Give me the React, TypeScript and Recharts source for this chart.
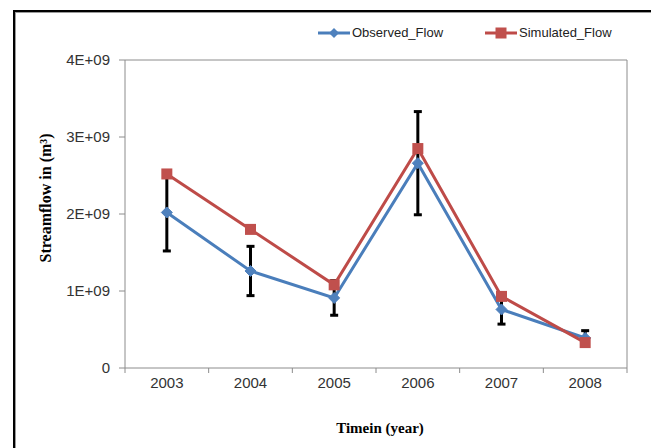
import React from 'react';
import { LineChart, Line, XAxis, YAxis, ErrorBar, ReferenceLine, Legend } from 'recharts';

const years = [2003, 2004, 2005, 2006, 2007, 2008];
const observedFlow = [2.02e9, 1.26e9, 0.91e9, 2.66e9, 0.76e9, 0.39e9];
const simulatedFlow = [2.52e9, 1.8e9, 1.08e9, 2.85e9, 0.93e9, 0.33e9];
const observedError = [0.5e9, 0.32e9, 0.225e9, 0.67e9, 0.19e9, 0.095e9];
const yTicks = [0, 1e9, 2e9, 3e9, 4e9];
const yearEdges = [2002.5, 2003.5, 2004.5, 2005.5, 2006.5, 2007.5, 2008.5];

const data = years.map((y, i) => ({
  year: y,
  observed: observedFlow[i],
  simulated: simulatedFlow[i],
  err: observedError[i],
}));

const BLUE = '#4A7EBB';
const BLUE_M = '#4F81BD';
const RED = '#BE4B48';
const RED_M = '#C0504D';
const AXIS = '#8C8C8C';
const TICK_FONT = '"Liberation Sans Narrow", "Liberation Sans", Arial, sans-serif';
const TITLE_FONT = '"Liberation Serif", "Times New Roman", serif';

const Diamond = (props: any) => {
  const { cx, cy } = props;
  if (cx == null || cy == null) return null;
  const r = 5.5;
  return (
    <polygon
      points={`${cx},${cy - r} ${cx + r},${cy} ${cx},${cy + r} ${cx - r},${cy}`}
      fill={BLUE_M}
      stroke={BLUE_M}
    />
  );
};

const Square = (props: any) => {
  const { cx, cy } = props;
  if (cx == null || cy == null) return null;
  const s = 11;
  return <rect x={cx - s / 2} y={cy - s / 2} width={s} height={s} fill={RED_M} stroke="none" />;
};

const XTick = (props: any) => {
  const { x, y, payload } = props;
  const v = payload.value;
  if (!Number.isInteger(v)) {
    return <line x1={x} y1={y} x2={x} y2={y + 5} stroke={AXIS} strokeWidth={1} />;
  }
  return (
    <text x={x} y={y + 20} textAnchor="middle" fontFamily={TICK_FONT} fontSize={15} fill="#333">
      {v}
    </text>
  );
};

const yFmt = (v: number) => (v === 0 ? '0' : `${v / 1e9}E+09`);

const LegendContent = () => {
  const items = [
    { name: 'Observed_Flow', color: BLUE, marker: 'diamond' },
    { name: 'Simulated_Flow', color: RED, marker: 'square' },
  ];
  return (
    <div style={{ display: 'flex', alignItems: 'center', gap: 42 }}>
      {items.map((it) => (
        <div key={it.name} style={{ display: 'flex', alignItems: 'center' }}>
          <svg width={32} height={14} style={{ display: 'block' }}>
            <line x1={0} y1={7} x2={32} y2={7} stroke={it.color} strokeWidth={3} />
            {it.marker === 'diamond' ? (
              <polygon points="16,2 21,7 16,12 11,7" fill={BLUE_M} />
            ) : (
              <rect x={10.5} y={1.5} width={11} height={11} fill={RED_M} />
            )}
          </svg>
          <span
            style={{
              marginLeft: 2,
              fontFamily: TICK_FONT,
              fontSize: 13,
              color: '#222',
              lineHeight: '16px',
              whiteSpace: 'nowrap',
            }}
          >
            {it.name}
          </span>
        </div>
      ))}
    </div>
  );
};

export default function App() {
  return (
    <div
      style={{
        marginLeft: 5,
        marginTop: 2,
        width: 640,
        height: 440,
        border: '2px solid #000',
        position: 'relative',
      }}
    >
      <div style={{ width: 638, height: 438, border: '1px solid #9a9a9a' }}>
        <LineChart
          width={638}
          height={438}
          data={data}
          margin={{ top: 47, right: 27, left: 0, bottom: 0 }}
        >
          <XAxis
            dataKey="year"
            type="number"
            domain={[2002.5, 2008.5]}
            ticks={[...yearEdges, ...years].sort((a, b) => a - b)}
            interval={0}
            tick={<XTick />}
            tickLine={false}
            tickSize={0}
            tickMargin={0}
            axisLine={{ stroke: AXIS }}
            height={83}
            label={{
              value: 'Timein (year)',
              position: 'insideBottom',
              offset: 18,
              dx: 4,
              style: { fontFamily: TITLE_FONT, fontSize: 15, fontWeight: 'bold', fill: '#000' },
            }}
          />
          <YAxis
            type="number"
            domain={[0, 4e9]}
            ticks={yTicks}
            interval={0}
            tickFormatter={yFmt}
            width={109}
            tickSize={6}
            tickMargin={9}
            axisLine={{ stroke: AXIS }}
            tickLine={{ stroke: AXIS }}
            tick={{ fontFamily: TICK_FONT, fontSize: 15, fill: '#333' }}
            label={{
              value: 'Streamflow in (m³)',
              angle: -90,
              position: 'insideLeft',
              offset: 29,
              dy: -16,
              style: {
                textAnchor: 'middle',
                fontFamily: TITLE_FONT,
                fontSize: 16,
                fontWeight: 'bold',
                fill: '#000',
              },
            }}
          />
          <ReferenceLine y={4e9} stroke={AXIS} strokeWidth={1} />
          <ReferenceLine x={2008.5} stroke={AXIS} strokeWidth={1} />
          <Legend
            layout="vertical"
            verticalAlign="middle"
            align="center"
            content={<LegendContent />}
            wrapperStyle={{ top: 12, left: 302, width: 330, height: 18 }}
          />
          <Line
            name="Observed_Flow"
            dataKey="observed"
            stroke={BLUE}
            strokeWidth={3}
            dot={<Diamond />}
            activeDot={false}
            isAnimationActive={false}
          >
            <ErrorBar dataKey="err" direction="y" width={4} stroke="#000" strokeWidth={3} />
          </Line>
          <Line
            name="Simulated_Flow"
            dataKey="simulated"
            stroke={RED}
            strokeWidth={3}
            dot={<Square />}
            activeDot={false}
            isAnimationActive={false}
          />
        </LineChart>
      </div>
    </div>
  );
}
